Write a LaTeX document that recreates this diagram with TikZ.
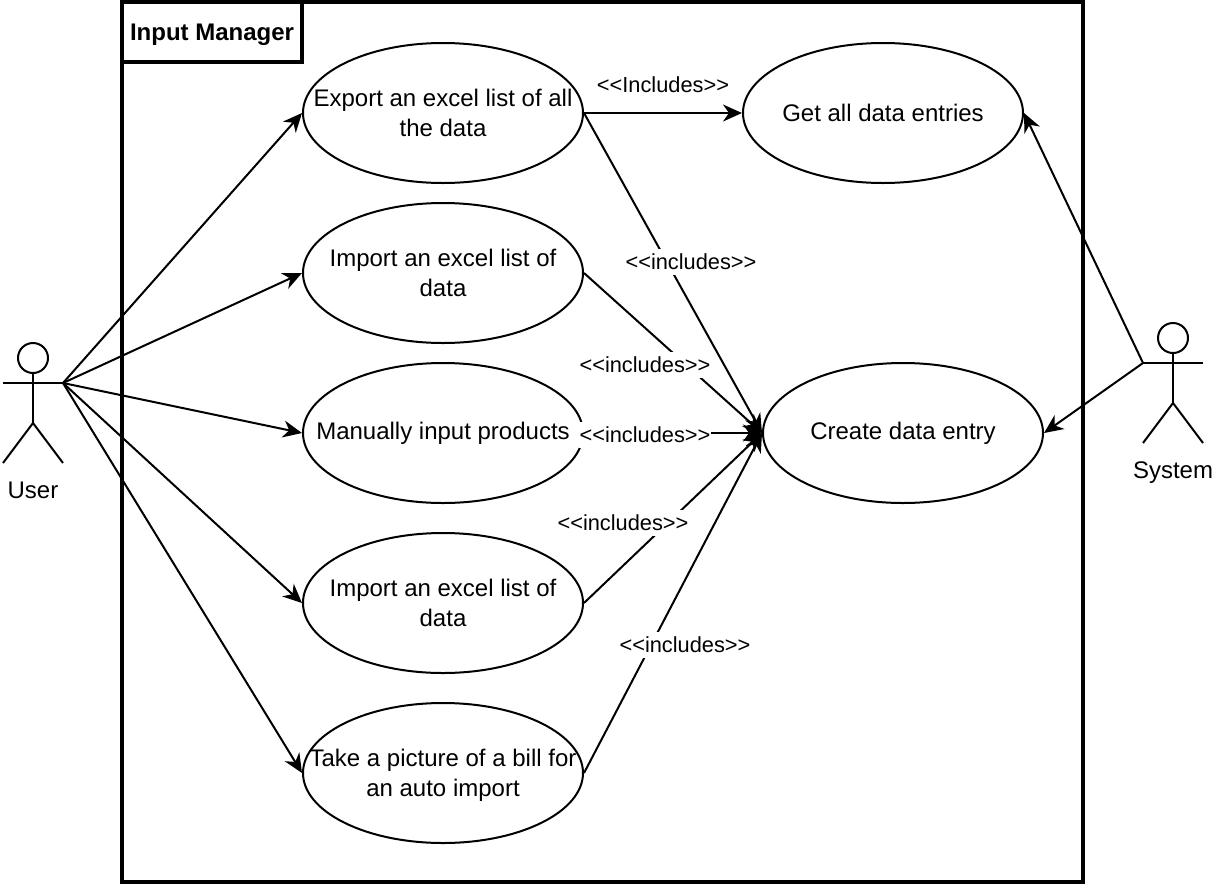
\documentclass[tikz,border=0pt]{standalone}
\usepackage{fontspec}
\setmainfont{Liberation Sans}
\usetikzlibrary{arrows.meta}
\usetikzlibrary{shapes.geometric}
\tikzset{>={Stealth[length=19pt,width=17pt,inset=6pt]}}
\tikzset{usecase/.style={draw,ellipse,line width=2pt,minimum width=280pt,minimum height=140pt,inner xsep=-100pt,inner ysep=-30pt,align=center,font=\fontsize{24}{30}\selectfont}}
\tikzset{includes/.style={fill=white,inner xsep=1pt,inner ysep=0pt,minimum height=26pt,font=\fontsize{21.8}{25}\selectfont}}
\tikzset{actorname/.style={inner sep=0pt,font=\fontsize{24}{30}\selectfont}}
\tikzset{conn/.style={->,line width=2pt}}

\begin{document}
\begin{tikzpicture}[x=1pt,y=-1pt]
    \useasboundingbox (0,0) rectangle (1217,889);

    % Frame
    \draw[line width=4pt] (122,2) rectangle (1083,882);
    \draw[line width=4pt] (122,2) rectangle (302,62);
    \node[inner sep=0pt,font=\bfseries\fontsize{24}{30}\selectfont] (title) at (212,35) {Input Manager};

    % Use cases
    \node[usecase] (export) at (443,113) {Export an excel list of all\\the data};
    \node[usecase] (import1) at (443,273) {Import an excel list of\\data};
    \node[usecase] (manual) at (443,433) {Manually input products};
    \node[usecase] (import2) at (443,603) {Import an excel list of\\data};
    \node[usecase] (picture) at (443,773) {Take a picture of a bill for\\an auto \smash{import}};
    \node[usecase] (entries) at (883,113) {Get all data entries};
    \node[usecase] (create) at (903,433) {Create data entry};

    % User
    \draw[line width=2pt] (33,358) circle (15);
    \draw[line width=2pt] (33,373) -- (33,423);
    \draw[line width=2pt] (3,383) -- (63,383);
    \draw[line width=2pt] (3,463) -- (33,423) -- (63,463);
    \coordinate (userhand) at (63,383);
    \node[actorname] (user) at (33,490) {User};

    % System
    \draw[line width=2pt] (1173,338) circle (15);
    \draw[line width=2pt] (1173,353) -- (1173,403);
    \draw[line width=2pt] (1143,363) -- (1203,363);
    \draw[line width=2pt] (1143,443) -- (1173,403) -- (1203,443);
    \coordinate (systemhand) at (1143,363);
    \node[actorname] (system) at (1173,473) {System};

    % User to use cases
    \draw[conn] (userhand) -- (export.west);
    \draw[conn] (userhand) -- (import1.west);
    \draw[conn] (userhand) -- (manual.west);
    \draw[conn] (userhand) -- (import2.west);
    \draw[conn] (userhand) -- (picture.west);

    % System to use cases
    \draw[conn] (systemhand) -- (entries.east);
    \draw[conn] (systemhand) -- (create.east);

    % Includes
    \draw[conn] (export.east) -- (entries.west);
    \draw[conn] (export.east) -- (create.west);
    \draw[conn] (import1.east) -- (create.west);
    \draw[conn] (manual.east) -- (create.west);
    \draw[conn] (import2.east) -- (create.west);
    \draw[conn] (picture.east) -- (create.west);

    % Labels
    \node[includes,fill=none] (inc0) at (663,85) {<{}<Includes>{}>};
    \node[includes] (inc1) at (691,262) {<{}<includes>{}>};
    \node[includes] (inc2) at (645,365) {<{}<includes>{}>};
    \node[includes] (inc3) at (645,435) {<{}<includes>{}>};
    \node[includes] (inc4) at (623,523) {<{}<includes>{}>};
    \node[includes] (inc5) at (685,645) {<{}<includes>{}>};
\end{tikzpicture}
\end{document}
